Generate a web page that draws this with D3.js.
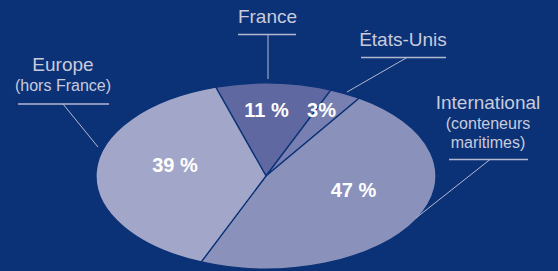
<!DOCTYPE html>
<html>
<head>
  <meta charset="utf-8">
  <title>Répartition</title>
  <script src="https://d3js.org/d3.v7.min.js"></script>
  <style>
    body { margin: 0; background: #0b3277; }
    svg { display: block; }
  </style>
</head>
<body>
<svg></svg>
<script>

// data
var categories = ['France', 'États-Unis', 'International', 'Europe']
var values = [11, 3, 47, 39]
var pctLabels = ['11 %', '3%', '47 %', '39 %']
var titles = ['France', 'États-Unis', 'International', 'Europe']
var subtitles = [[], [], ['(conteneurs', 'maritimes)'], ['(hors France)']]

var width = 558, height = 271
var colors = {'France': '#5f68a0', 'États-Unis': '#7880b2', 'International': '#8a91bb', 'Europe': '#a2a6c8'}

var svg = d3.select('svg')
  .attr('width', width)
  .attr('height', height)

svg.append('rect')
  .attr('width', width)
  .attr('height', height)
  .attr('fill', '#0b3277')

var cx = 266, cy = 176, rx = 170, ry = 93

var pie = d3.pie()
  .sort(null)
  .startAngle(-0.30)
  .endAngle(-0.30 + 2 * Math.PI)

var arc = d3.arc().innerRadius(0).outerRadius(rx)

var arcs = pie(values)

var g = svg.append('g')
  .attr('transform', 'translate(' + cx + ',' + cy + ') scale(1,' + (ry / rx) + ')')

g.selectAll('path')
  .data(arcs)
  .enter()
  .append('path')
  .attr('d', arc)
  .attr('fill', (d, i) => colors[categories[i]])
  .attr('stroke', '#0b3277')
  .attr('stroke-width', 1.3)
  .attr('vector-effect', 'non-scaling-stroke')

// percent labels (annotation positions)
var pctPos = [[266.5, 117], [321.5, 117], [353.5, 197], [175, 172]]

svg.selectAll('.pct')
  .data(pctLabels)
  .enter()
  .append('text')
  .attr('class', 'pct')
  .attr('x', (d, i) => pctPos[i][0])
  .attr('y', (d, i) => pctPos[i][1])
  .attr('text-anchor', 'middle')
  .attr('font-family', '"Liberation Sans", Arial, sans-serif')
  .attr('font-weight', 'bold')
  .attr('font-size', 20)
  .attr('fill', '#ffffff')
  .text(d => d)

// callouts: title center x, title baseline, underline y, underline x0/x1, leader end
var callouts = [
  {x: 267.5, y: 23, uy: 34.5, x0: 238, x1: 296, lx: 268, ex: 268, ey: 79},
  {x: 403, y: 46, uy: 57.5, x0: 361, x1: 446, lx: 407, ex: 347, ey: 92},
  {x: 488, y: 109, uy: 159.5, x0: 449, x1: 528, lx: 490, ex: 416, ey: 218},
  {x: 63, y: 71, uy: 104, x0: 18, x1: 109, lx: 63, ex: 98, ey: 147}
]

var labelColor = '#c9cbdc'
var lineColor = '#b4b8cf'

callouts.forEach((c, i) => {
  var t = svg.append('text')
    .attr('x', c.x)
    .attr('y', c.y)
    .attr('text-anchor', 'middle')
    .attr('font-family', '"Liberation Sans", Arial, sans-serif')
    .attr('font-size', 19)
    .attr('fill', labelColor)
    .text(titles[i])

  subtitles[i].forEach((s, j) => {
    svg.append('text')
      .attr('x', c.x)
      .attr('y', c.y + 20 + j * 19)
      .attr('text-anchor', 'middle')
      .attr('font-family', '"Liberation Sans", Arial, sans-serif')
      .attr('font-size', 16)
      .attr('fill', labelColor)
      .text(s)
  })

  svg.append('line')
    .attr('x1', c.x0).attr('x2', c.x1)
    .attr('y1', c.uy).attr('y2', c.uy)
    .attr('stroke', lineColor)
    .attr('stroke-width', 1.5)

  svg.append('line')
    .attr('x1', c.lx).attr('y1', c.uy)
    .attr('x2', c.ex).attr('y2', c.ey)
    .attr('stroke', lineColor)
    .attr('stroke-width', 1)
})

</script>
</body>
</html>
